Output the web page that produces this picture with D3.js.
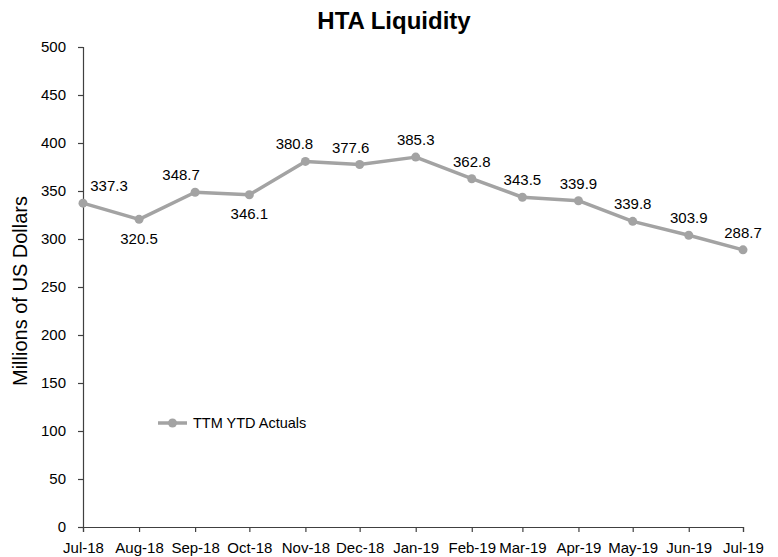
<!DOCTYPE html>
<html>
<head>
<meta charset="utf-8">
<script src="https://cdn.jsdelivr.net/npm/d3@7"></script>
<style>
  body { margin: 0; background: #fff; }
  svg text { font-family: "Liberation Sans", Arial, sans-serif; fill: #000; }
</style>
</head>
<body>
<svg width="778" height="557"></svg>
<script>
// chart data
var months = ["2018-07-01", "2018-08-01", "2018-09-01", "2018-10-01", "2018-11-01", "2018-12-01",
  "2019-01-01", "2019-02-01", "2019-03-01", "2019-04-01", "2019-05-01", "2019-06-01", "2019-07-01"];
var values = [337.3, 320.5, 348.7, 346.1, 380.8, 377.6, 385.3, 362.8, 343.5, 339.9, 318.4, 303.9, 288.7];
var valueLabels = ["337.3", "320.5", "348.7", "346.1", "380.8", "377.6", "385.3", "362.8", "343.5", "339.9", "339.8", "303.9", "288.7"];
var yTicks = [0, 50, 100, 150, 200, 250, 300, 350, 400, 450, 500];
var seriesName = "TTM YTD Actuals";

// label placement (style only): above / below, horizontal nudge
var labelPos = ["above", "below", "above", "below", "above", "above", "above", "above", "above", "above", "above", "above", "above"];
var labelDx = [26, 0, -14, 0, -11, -9, 0, 0, 0, 0, 0, 0, 0];

var parse = d3.utcParse("%Y-%m-%d");
var data = months.map((m, i) => ({ date: parse(m), value: values[i], label: valueLabels[i] }));

var svg = d3.select("svg");
var lineColor = "#a3a3a3";

var x = d3.scaleUtc()
  .domain([parse("2018-07-01"), parse("2019-07-01")])
  .range([83, 743]);

var y = d3.scaleLinear()
  .domain([0, 500])
  .range([527, 47]);

// title
svg.append("text")
  .attr("x", 394)
  .attr("y", 29)
  .attr("text-anchor", "middle")
  .style("font-size", "24px")
  .style("font-weight", "bold")
  .text("HTA Liquidity");

// y axis
var yAxis = svg.append("g")
  .attr("transform", "translate(83,0)")
  .call(d3.axisLeft(y).tickValues(yTicks).tickSize(5).tickPadding(12));

// x axis
var xAxis = svg.append("g")
  .attr("transform", "translate(0,527)")
  .call(d3.axisBottom(x).tickValues(data.map(d => d.date))
    .tickFormat(d3.utcFormat("%b-%y")).tickSize(5).tickPadding(10));

[yAxis, xAxis].forEach(a => {
  a.select(".domain").attr("stroke", "#404040").attr("stroke-width", 1.2);
  a.selectAll(".tick line").attr("stroke", "#404040").attr("stroke-width", 1.2);
  a.selectAll(".tick text")
    .style("font-family", "'Liberation Sans', Arial, sans-serif")
    .style("font-size", "15px")
    .attr("fill", "#000");
});

// y axis title
svg.append("text")
  .attr("transform", "translate(27,291) rotate(-90)")
  .attr("text-anchor", "middle")
  .style("font-size", "20px")
  .text("Millions of US Dollars");

// the line
var line = d3.line()
  .x(d => x(d.date))
  .y(d => y(d.value));

svg.append("path")
  .datum(data)
  .attr("fill", "none")
  .attr("stroke", lineColor)
  .attr("stroke-width", 3.5)
  .attr("stroke-linejoin", "round")
  .attr("d", line);

svg.selectAll(".dot")
  .data(data)
  .enter()
  .append("circle")
  .attr("class", "dot")
  .attr("cx", d => x(d.date))
  .attr("cy", d => y(d.value))
  .attr("r", 4.5)
  .attr("fill", lineColor);

// data labels
svg.selectAll(".lbl")
  .data(data)
  .enter()
  .append("text")
  .attr("class", "lbl")
  .attr("x", (d, i) => x(d.date) + labelDx[i])
  .attr("y", (d, i) => y(d.value) + (labelPos[i] === "below" ? 24.5 : -12))
  .attr("text-anchor", "middle")
  .style("font-size", "15px")
  .text(d => d.label);

// legend
var legend = svg.append("g").attr("transform", "translate(158,423)");
legend.append("line")
  .attr("x1", 0).attr("x2", 29)
  .attr("stroke", lineColor)
  .attr("stroke-width", 3.5);
legend.append("circle")
  .attr("cx", 14.5)
  .attr("r", 4.5)
  .attr("fill", lineColor);
legend.append("text")
  .attr("x", 35)
  .attr("y", 5)
  .style("font-size", "14.5px")
  .text(seriesName);
</script>
</body>
</html>
